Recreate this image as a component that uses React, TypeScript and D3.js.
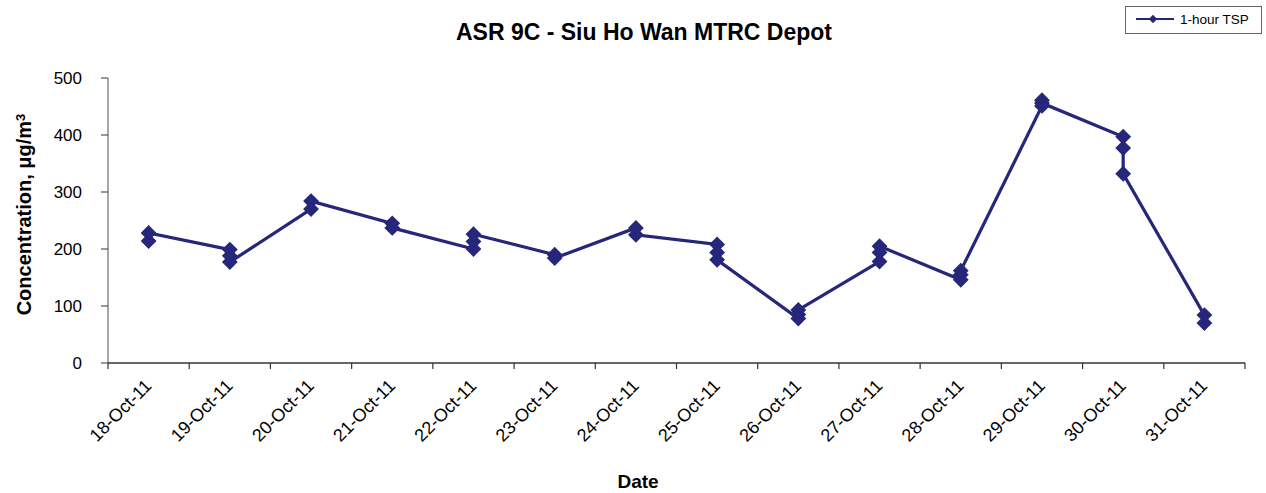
import * as d3 from "d3";
import { useEffect, useRef } from "react";

// dates on the category axis
const dates = [
  "18-Oct-11", "19-Oct-11", "20-Oct-11", "21-Oct-11", "22-Oct-11", "23-Oct-11", "24-Oct-11",
  "25-Oct-11", "26-Oct-11", "27-Oct-11", "28-Oct-11", "29-Oct-11", "30-Oct-11", "31-Oct-11",
];
// 1-hour TSP readings per day, in the order they were joined
const readings = [
  [214, 228],
  [199, 188, 177],
  [270, 284],
  [245, 237],
  [200, 213, 226],
  [190, 184],
  [237, 225],
  [208, 194, 181],
  [78, 85, 93],
  [178, 194, 205],
  [146, 155, 162],
  [451, 461, 456],
  [397, 377, 332],
  [84, 70],
];
const yTicks = [0, 100, 200, 300, 400, 500];

const W = 1266, H = 493;
const M = { left: 108, right: 21, top: 78, bottom: 130 };
const NAVY = "#26267a";
const FONT = "Arial, 'Liberation Sans', sans-serif";

export default function App() {
  const ref = useRef<SVGSVGElement>(null);

  useEffect(() => {
    const svg = d3.select(ref.current);
    svg.selectAll("*").remove();

    const x = d3.scaleBand().domain(dates).range([M.left, W - M.right]).padding(0);
    const y = d3.scaleLinear().domain([0, 500]).range([H - M.bottom, M.top]);

    const pts: [number, number][] = [];
    dates.forEach((d, i) => readings[i].forEach((v) => pts.push([x(d)! + x.bandwidth() / 2, y(v)])));

    // title
    svg.append("text")
      .attr("x", 644).attr("y", 40)
      .attr("text-anchor", "middle")
      .style("font", `bold 23px ${FONT}`)
      .text("ASR 9C - Siu Ho Wan MTRC Depot");

    // y axis
    const ya = svg.append("g").attr("transform", `translate(${M.left},0)`);
    ya.append("line").attr("x1", 0).attr("x2", 0).attr("y1", y(0)).attr("y2", y(500)).attr("stroke", "#888").attr("stroke-width", 1.5);
    yTicks.forEach((t) => {
      ya.append("line").attr("x1", -7).attr("x2", 0).attr("y1", y(t)).attr("y2", y(t)).attr("stroke", "#555").attr("stroke-width", 1.2);
      ya.append("text")
        .attr("x", -26).attr("y", y(t)).attr("dy", "0.36em")
        .attr("text-anchor", "end")
        .style("font", `17px ${FONT}`)
        .text(t);
    });

    // x axis
    const xa = svg.append("g").attr("transform", `translate(0,${y(0)})`);
    xa.append("line").attr("x1", M.left).attr("x2", W - M.right).attr("stroke", "#333").attr("stroke-width", 1.5);
    d3.range(dates.length + 1).forEach((i) => {
      const px = M.left + i * x.bandwidth();
      xa.append("line").attr("x1", px).attr("x2", px).attr("y1", 0).attr("y2", 6).attr("stroke", "#333").attr("stroke-width", 1.2);
    });
    dates.forEach((d) => {
      const cx = x(d)! + x.bandwidth() / 2 + 4;
      xa.append("text")
        .attr("transform", `translate(${cx},24) rotate(-45)`)
        .attr("text-anchor", "end")
        .style("font", `18px ${FONT}`)
        .text(d);
    });

    // axis titles
    svg.append("text")
      .attr("x", 638).attr("y", 488)
      .attr("text-anchor", "middle")
      .style("font", `bold 19px ${FONT}`)
      .text("Date");
    const yt = svg.append("text")
      .attr("transform", `translate(31,${(y(0) + y(500)) / 2 - 6}) rotate(-90)`)
      .attr("text-anchor", "middle")
      .style("font", `bold 20px ${FONT}`);
    yt.append("tspan").text("Concentration, μg/m");
    yt.append("tspan").attr("dy", "-0.45em").style("font-size", "13px").text("3");

    // series
    svg.append("path")
      .datum(pts)
      .attr("d", d3.line())
      .attr("fill", "none")
      .attr("stroke", NAVY)
      .attr("stroke-width", 3.2);

    const diamond = d3.symbol().type(d3.symbolDiamond2).size(160);
    svg.append("g").selectAll("path").data(pts).join("path")
      .attr("d", diamond)
      .attr("transform", (p) => `translate(${p[0]},${p[1]})`)
      .attr("fill", NAVY);

    // legend
    const lg = svg.append("g");
    lg.append("rect").attr("x", 1125.5).attr("y", 6.5).attr("width", 136).attr("height", 27)
      .attr("fill", "white").attr("stroke", "#666").attr("stroke-width", 1);
    lg.append("line").attr("x1", 1136).attr("x2", 1174).attr("y1", 19).attr("y2", 19).attr("stroke", NAVY).attr("stroke-width", 2);
    lg.append("path").attr("d", d3.symbol().type(d3.symbolDiamond2).size(45)).attr("transform", "translate(1153,19)").attr("fill", NAVY);
    lg.append("text").attr("x", 1180).attr("y", 24)
      .style("font", `13.5px ${FONT}`)
      .text("1-hour TSP");
  }, []);

  return <svg ref={ref} width={W} height={H} style={{ position: "absolute", left: 0, top: 0, background: "white" }} />;
}
